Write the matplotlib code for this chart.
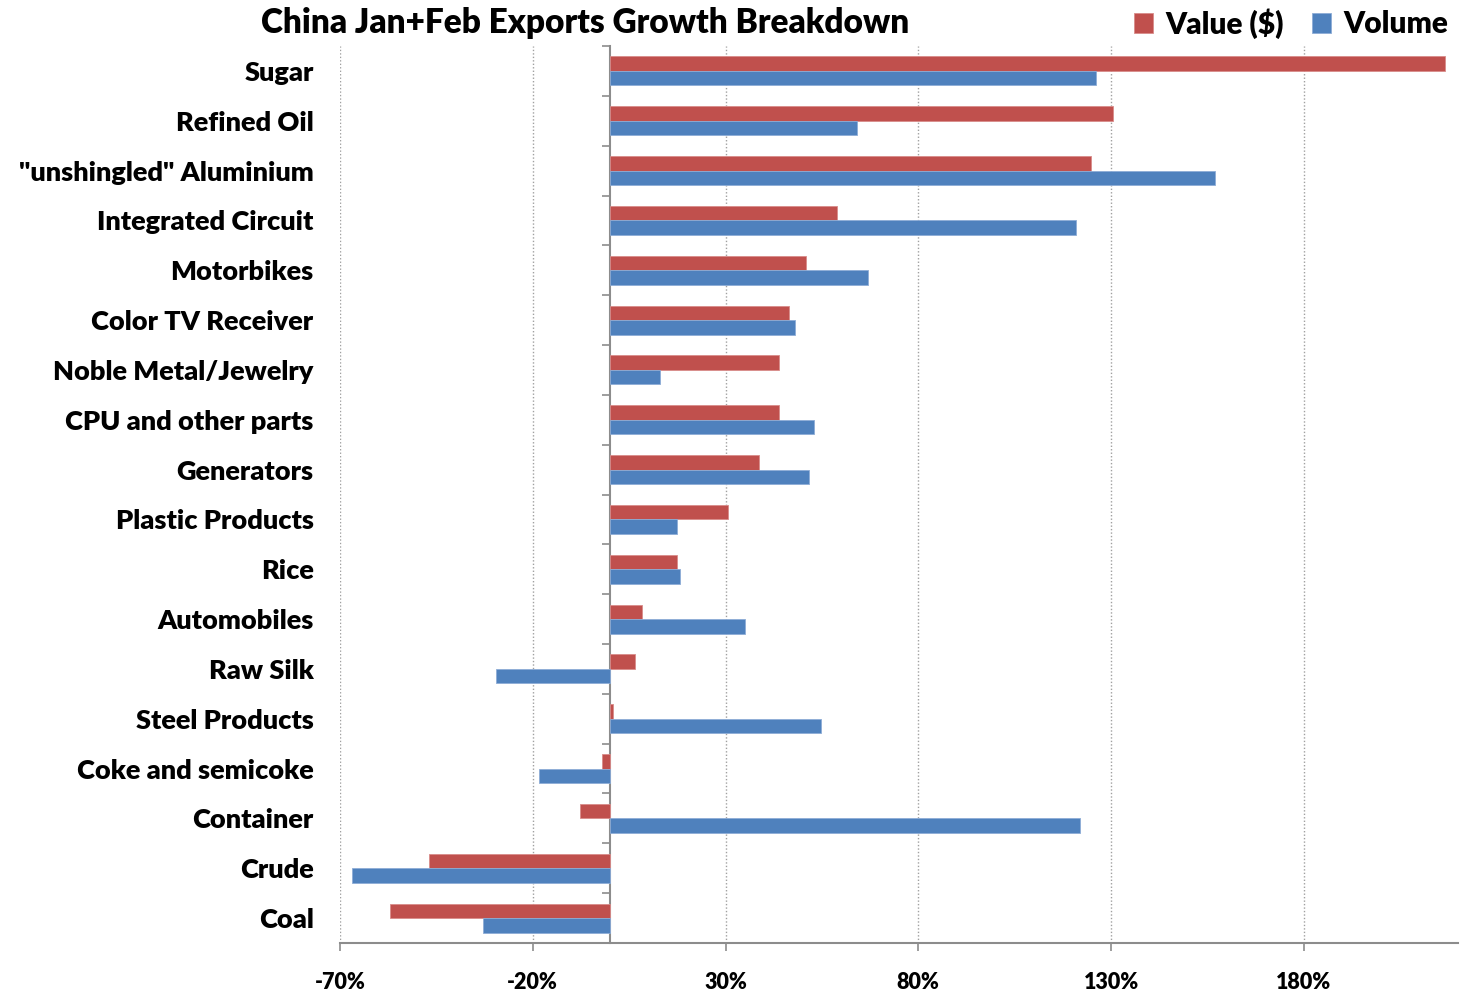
import numpy as np
import matplotlib
matplotlib.use("Agg")
import matplotlib.pyplot as plt
from matplotlib.ticker import FuncFormatter

plt.rcParams['font.family'] = ['Lato', 'DejaVu Sans']

categories = ['Sugar', 'Refined Oil', '"unshingled" Aluminium', 'Integrated Circuit',
              'Motorbikes', 'Color TV Receiver', 'Noble Metal/Jewelry',
              'CPU and other parts', 'Generators', 'Plastic Products', 'Rice',
              'Automobiles', 'Raw Silk', 'Steel Products', 'Coke and semicoke',
              'Container', 'Crude', 'Coal']
value_growth = [216.7, 130.5, 124.8, 59.0, 51.0, 46.5, 44.0, 44.0, 38.7, 30.6,
                17.4, 8.3, 6.5, 0.8, -2.0, -7.8, -47.0, -57.0]
volume_growth = [126.0, 64.0, 157.0, 121.0, 67.0, 48.0, 13.0, 53.0, 51.6, 17.4,
                 18.2, 35.0, -29.6, 54.8, -18.4, 122.0, -67.0, -33.0]
x_ticks = [-70, -20, 30, 80, 130, 180]

red = '#C0504D'
blue = '#4F81BD'
grey = '#8C8C8C'

fig = plt.figure(figsize=(14.68, 9.94), dpi=100)
ax = fig.add_axes([340 / 1468, 1 - 943 / 994, (1458 - 340) / 1468, (943 - 46) / 994])

n = len(categories)
ypos = np.arange(n)
h = 0.29
ax.barh(ypos - h / 2, value_growth, height=h, color=red, edgecolor='#D98C8A',
        linewidth=0.6, label='Value ($)', zorder=3)
ax.barh(ypos + h / 2, volume_growth, height=h, color=blue, edgecolor='#8DACD6',
        linewidth=0.6, label='Volume', zorder=3)

xmin, xmax = -70, 220
ax.set_xlim(xmin, xmax)
ax.set_ylim(n - 0.5, -0.5)

# category labels on the far left, no tick marks
ax.set_yticks(ypos)
ax.set_yticklabels(categories, fontsize=19.5, fontweight='heavy')
ax.tick_params(axis='y', length=0, pad=19)

ax.set_xticks(x_ticks)
ax.xaxis.set_major_formatter(FuncFormatter(lambda v, p: '%d%%' % v))
ax.tick_params(axis='x', direction='out', length=6, width=1.2, color=grey,
               pad=15, labelsize=15.5)
for lbl in ax.get_xticklabels():
    lbl.set_fontweight('heavy')

ax.grid(axis='x', linestyle=(0, (1, 1.5)), color='#A0A0A0', linewidth=1, zorder=0)
for s in ['top', 'right', 'left']:
    ax.spines[s].set_visible(False)
ax.spines['bottom'].set_color(grey)
ax.spines['bottom'].set_linewidth(1.5)

# vertical axis through zero with ticks between categories
zero_frac = (0 - xmin) / (xmax - xmin)
sec = ax.secondary_yaxis(zero_frac)
sec.set_yticks(np.arange(n + 1) - 0.5)
sec.set_yticklabels([])
sec.tick_params(direction='out', length=6, width=1.2, color=grey)
sec.spines['left'].set_color(grey)
sec.spines['left'].set_linewidth(1.5)
sec.spines['left'].set_zorder(4)

fig.text(585 / 1468, 1 - 23 / 994, 'China Jan+Feb Exports Growth Breakdown',
         ha='center', va='center', fontsize=24, fontweight='heavy')

ax.legend(loc='upper right', bbox_to_anchor=(1460 / 1468, 1.004),
          bbox_transform=fig.transFigure, ncol=2, frameon=False,
          prop={'size': 21.5, 'weight': 'heavy'}, handlelength=0.65,
          handleheight=0.65, handletextpad=0.4, columnspacing=0.95,
          borderaxespad=0.0)

fig.savefig('out.png', dpi=100)
